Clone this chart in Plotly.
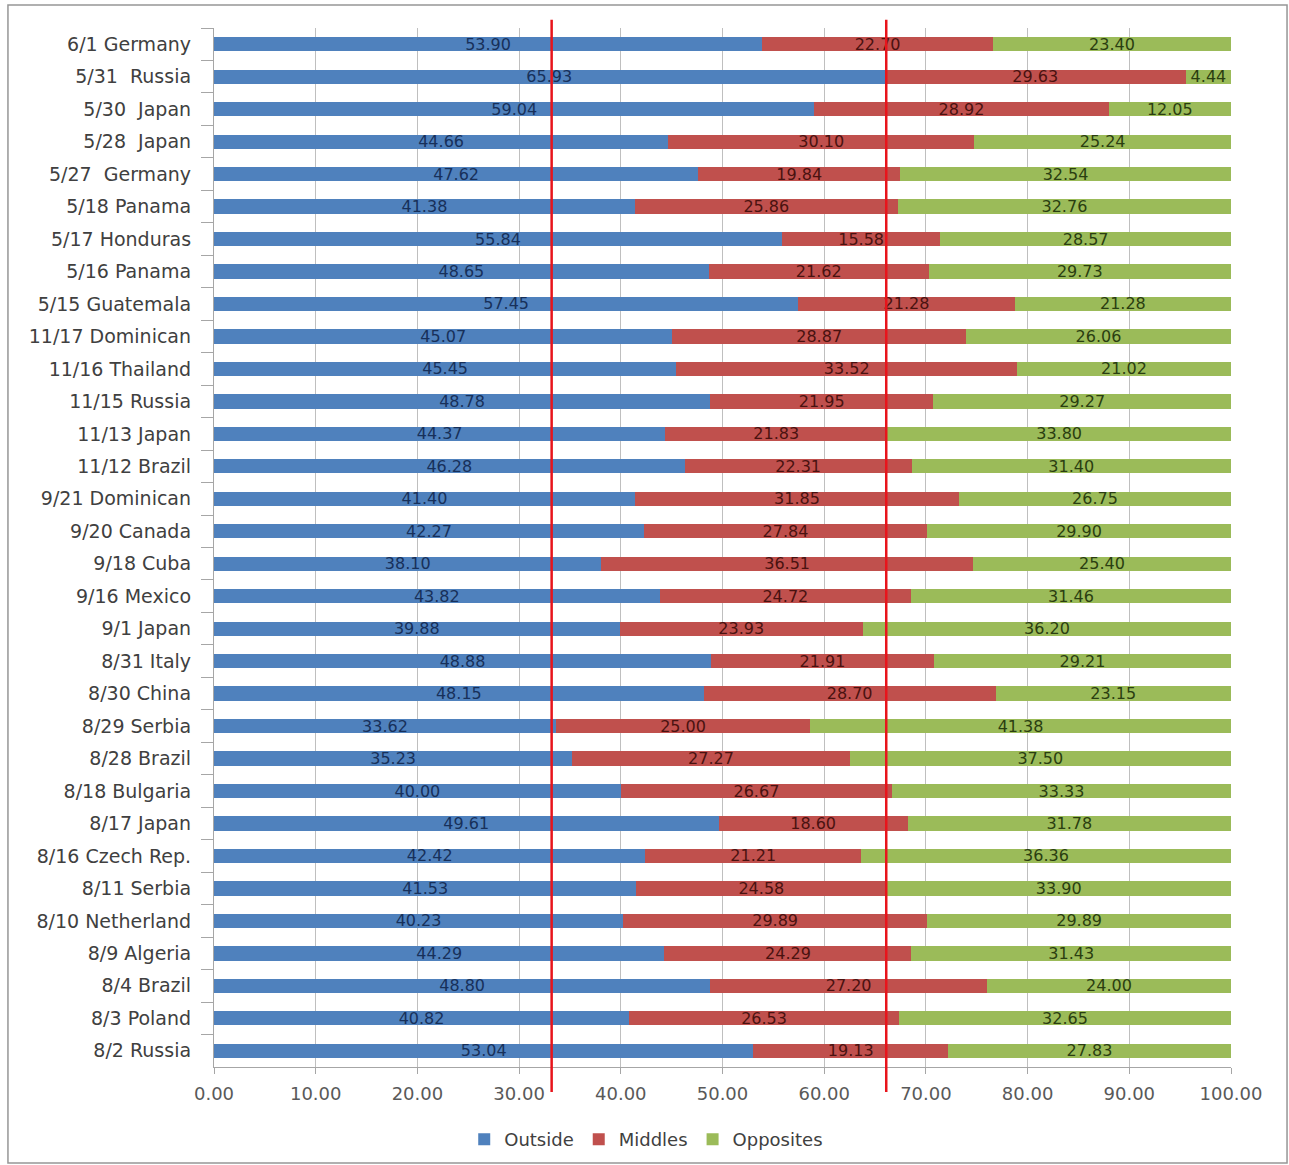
import plotly.graph_objects as go

# Matches, listed top to bottom
matches = [
    "6/1 Germany", "5/31\u00a0 Russia", "5/30\u00a0 Japan", "5/28\u00a0 Japan", "5/27\u00a0 Germany",
    "5/18 Panama", "5/17 Honduras", "5/16 Panama", "5/15 Guatemala", "11/17 Dominican",
    "11/16 Thailand", "11/15 Russia", "11/13 Japan", "11/12 Brazil", "9/21 Dominican",
    "9/20 Canada", "9/18 Cuba", "9/16 Mexico", "9/1 Japan", "8/31 Italy",
    "8/30 China", "8/29 Serbia", "8/28 Brazil", "8/18 Bulgaria", "8/17 Japan",
    "8/16 Czech Rep.", "8/11 Serbia", "8/10 Netherland", "8/9 Algeria", "8/4 Brazil",
    "8/3 Poland", "8/2 Russia",
]

outside = [
    53.90, 65.93, 59.04, 44.66, 47.62, 41.38, 55.84, 48.65, 57.45, 45.07,
    45.45, 48.78, 44.37, 46.28, 41.40, 42.27, 38.10, 43.82, 39.88, 48.88,
    48.15, 33.62, 35.23, 40.00, 49.61, 42.42, 41.53, 40.23, 44.29, 48.80,
    40.82, 53.04,
]
middles = [
    22.70, 29.63, 28.92, 30.10, 19.84, 25.86, 15.58, 21.62, 21.28, 28.87,
    33.52, 21.95, 21.83, 22.31, 31.85, 27.84, 36.51, 24.72, 23.93, 21.91,
    28.70, 25.00, 27.27, 26.67, 18.60, 21.21, 24.58, 29.89, 24.29, 27.20,
    26.53, 19.13,
]
opposites = [
    23.40, 4.44, 12.05, 25.24, 32.54, 32.76, 28.57, 29.73, 21.28, 26.06,
    21.02, 29.27, 33.80, 31.40, 26.75, 29.90, 25.40, 31.46, 36.20, 29.21,
    23.15, 41.38, 37.50, 33.33, 31.78, 36.36, 33.90, 29.89, 31.43, 24.00,
    32.65, 27.83,
]

x_ticks = [0, 10, 20, 30, 40, 50, 60, 70, 80, 90, 100]
# hand-placed markers near the one-third and two-thirds shares
marker_lines = [33.2, 66.1]

FONT = "'DejaVu Sans', Verdana, sans-serif"

series = [
    ("Outside", outside, "#4F81BD", "#17305A"),
    ("Middles", middles, "#C0504D", "#4A1210"),
    ("Opposites", opposites, "#9BBB59", "#2A3E10"),
]

fig = go.Figure()
for name, vals, color, txt_color in series:
    fig.add_trace(go.Bar(
        name=name,
        y=matches,
        x=vals,
        orientation="h",
        marker=dict(color=color, line=dict(width=0)),
        text=vals,
        texttemplate="%{x:.2f}",
        textposition="inside",
        insidetextanchor="middle",
        textfont=dict(color=txt_color, size=16, family=FONT),
        constraintext="none",
    ))

for v in marker_lines:
    fig.add_shape(type="line", xref="x", yref="paper", x0=v, x1=v,
                  y0=-0.024, y1=1.008, line=dict(color="#E8141B", width=2.5))

# Outer frame
fig.add_shape(type="rect", xref="paper", yref="paper",
              x0=-0.2026, x1=1.0551, y0=-0.0924, y1=1.0221,
              line=dict(color="#969696", width=1.5), fillcolor="rgba(0,0,0,0)")

fig.update_layout(
    barmode="stack",
    bargap=0.56,
    width=1289,
    height=1165,
    margin=dict(l=214, r=58, t=28, b=98, autoexpand=False),
    paper_bgcolor="white",
    plot_bgcolor="white",
    font=dict(family=FONT, color="#404040"),
    uniformtext=dict(minsize=16, mode="show"),
    legend=dict(orientation="h", x=0.425, xanchor="center", y=-0.052, yanchor="top",
                bgcolor="rgba(0,0,0,0)",
                font=dict(size=18, color="#404040", family=FONT), itemwidth=30,
                traceorder="normal"),
    showlegend=True,
)

fig.update_xaxes(
    range=[0, 100],
    tickvals=x_ticks,
    tickformat=".2f",
    showgrid=True,
    gridcolor="#BFBFBF",
    gridwidth=1,
    zeroline=False,
    showline=True,
    linecolor="#A6A6A6",
    ticks="outside",
    ticklen=6,
    tickcolor="#A6A6A6",
    ticklabelstandoff=4,
    automargin=False,
    tickfont=dict(size=18, color="#595959", family=FONT),
)

fig.update_yaxes(
    autorange="reversed",
    type="category",
    showgrid=False,
    showline=True,
    linecolor="#A6A6A6",
    ticks="outside",
    tickson="boundaries",
    ticklen=12,
    tickcolor="#A6A6A6",
    automargin=False,
    tickfont=dict(size=19, color="#404040", family=FONT),
    ticksuffix="\u00a0\u00a0\u00a0",
)

fig.write_html("out.html")
